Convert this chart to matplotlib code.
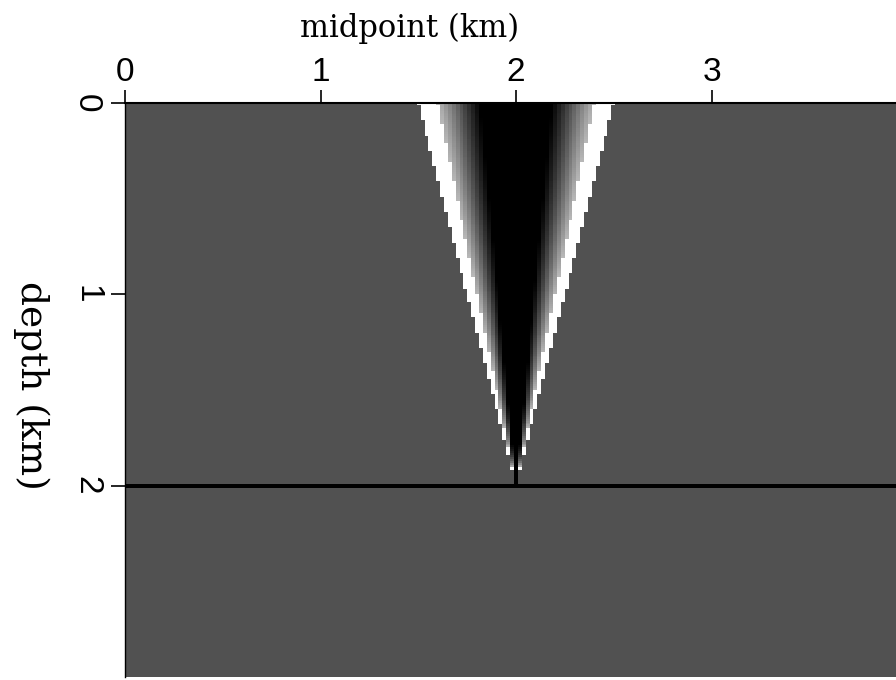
import numpy as np
import matplotlib
matplotlib.use("Agg")
import matplotlib.pyplot as plt

# ---- chart values (km) ----
x_ticks = [0, 1, 2, 3]
z_ticks = [0, 1, 2]
x_range = [0.0, 4.0]          # midpoint extent
z_range = [0.0, 3.0]          # depth extent
apex_x = 2.0                  # point scatterer midpoint
apex_z = 2.0                  # point scatterer depth
top_halfwidth = 0.5           # half width of the cone at depth 0
reflector_z = 2.0             # flat reflector depth
reflector_thick = 0.009
background_level = 0.32       # grey level of the empty section
# cross-cone amplitude profile: |u| (0 centre, 1 edge) -> grey level
profile_u = [0.0, 0.37, 0.80]
profile_v = [0.0, 0.0, 0.72]
white_edge_u = 0.80

nx, nz = 201, 300
dx = (x_range[1] - x_range[0]) / nx
dz = (z_range[1] - z_range[0]) / nz
xc = x_range[0] + (np.arange(nx) + 0.5) * dx
zc = z_range[0] + (np.arange(nz) + 0.5) * dz
X, Z = np.meshgrid(xc, zc)

img = np.full(X.shape, background_level)
half = top_halfwidth * np.clip(apex_z - Z, 0, None) / apex_z
inside = (np.abs(X - apex_x) <= half + 1e-9) & (Z < apex_z)
u = np.zeros_like(X)
u[inside] = np.abs(X - apex_x)[inside] / np.maximum(half[inside], 1e-9)
img[inside] = np.interp(u[inside], profile_u, profile_v)
img[inside & (u > white_edge_u)] = 1.0
# black stem below the cone tip
stem = (np.abs(X - apex_x) < dx * 0.6) & (Z < apex_z)
img[stem & (half < dx * 1.6)] = 0.0
img[np.abs(Z - reflector_z) < reflector_thick] = 0.0

fig = plt.figure(figsize=(8.96, 6.8), dpi=100)
ax = fig.add_axes([125 / 896, 1 - 677 / 680, 782 / 896, (677 - 103) / 680])
ax.imshow(img, cmap="gray", vmin=0, vmax=1, interpolation="nearest",
          extent=[x_range[0], x_range[1], z_range[1], z_range[0]], aspect="auto")
ax.set_xlim(x_range)
ax.set_ylim(z_range[1], z_range[0])

ax.xaxis.tick_top()
ax.set_xticks(x_ticks)
ax.set_xticklabels([str(t) for t in x_ticks], fontsize=24, family="Liberation Sans")
ax.set_yticks(z_ticks)
ax.set_yticklabels([str(t) for t in z_ticks], fontsize=24, family="Liberation Sans",
                   rotation=-90, va="center")
ax.tick_params(axis="x", direction="out", length=9.4, width=1.2, pad=1.5)
ax.tick_params(axis="y", direction="out", length=10, width=1.2, pad=6.5)
fig.text(410 / 896, 1 - 37 / 680, "midpoint (km)", fontsize=22,
         family="DejaVu Serif", ha="center", va="baseline")
fig.text(31 / 896, 1 - 385 / 680, "depth (km)", fontsize=27,
         family="DejaVu Serif", rotation=-90, ha="center", va="center")
for s in ["right", "bottom"]:
    ax.spines[s].set_visible(False)
ax.spines["top"].set_linewidth(1.5)
ax.spines["left"].set_linewidth(1.0)

fig.savefig("out.png", dpi=100)
